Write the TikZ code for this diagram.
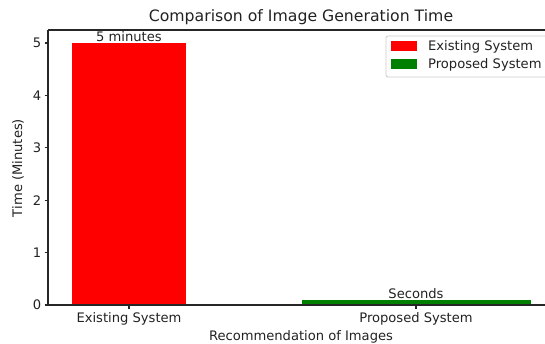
\documentclass[tikz,border=0pt]{standalone}
\usepackage{fontspec}
\setmainfont{DejaVu Sans}
\definecolor{mplgreen}{HTML}{008000}
\definecolor{legframe}{HTML}{CCCCCC}
\definecolor{txt}{HTML}{222222}
\begin{document}
\begin{tikzpicture}[x=1pt,y=-1pt,
  lbl/.style={inner sep=0pt,text=txt,font=\fontsize{13.1}{15}\selectfont},
  ttl/.style={inner sep=0pt,text=txt,font=\fontsize{15.7}{18}\selectfont},
  spine/.style={line width=1.1pt,color=black!85},
  tickmark/.style={line width=1.1pt,color=black!85}]
\useasboundingbox (0,0) rectangle (545,344);
\begin{scope}
\clip (0,0) rectangle (545,344);
% bars
\fill[red] (72,305) rectangle (186,43);
\fill[mplgreen] (302,305) rectangle (531,299.8);
% spines
\draw[spine] (48,30) -- (48,305) -- (560,305);
\draw[spine] (48,30) -- (560,30);
% y ticks
\foreach \v in {0,...,5}{
  \draw[tickmark] (44.5,{305-52.4*\v}) -- (48,{305-52.4*\v});
  \node[lbl,anchor=east] (yt\v) at (41.5,{305-52.4*\v}) {\v};
}
% x ticks
\draw[tickmark] (129,305) -- (129,308.5);
\draw[tickmark] (416,305) -- (416,308.5);
\node[lbl,anchor=north] (xt0) at (129,312) {Existing System};
\node[lbl,anchor=north] (xt1) at (416,312) {Proposed System};
% bar labels
\node[lbl,anchor=south] (bl0) at (129,42) {5 minutes};
\node[lbl,anchor=south] (bl1) at (416,299) {Seconds};
% axis labels
\node[lbl,rotate=90] (ylab) at (18,168) {Time (Minutes)};
\node[lbl] (xlab) at (301,337) {Recommendation of Images};
\node[ttl] (title) at (301,17) {Comparison of Image Generation Time};
% legend
\draw[legframe,line width=0.8pt,rounded corners=2pt,fill=white] (386,36) rectangle (560,77);
\fill[red] (391,41.5) rectangle (417,51);
\fill[mplgreen] (391,59.5) rectangle (417,69);
\node[lbl,anchor=west] (leg0) at (428,46.5) {Existing System};
\node[lbl,anchor=west] (leg1) at (428,64.5) {Proposed System};
\end{scope}
\end{tikzpicture}
\end{document}
